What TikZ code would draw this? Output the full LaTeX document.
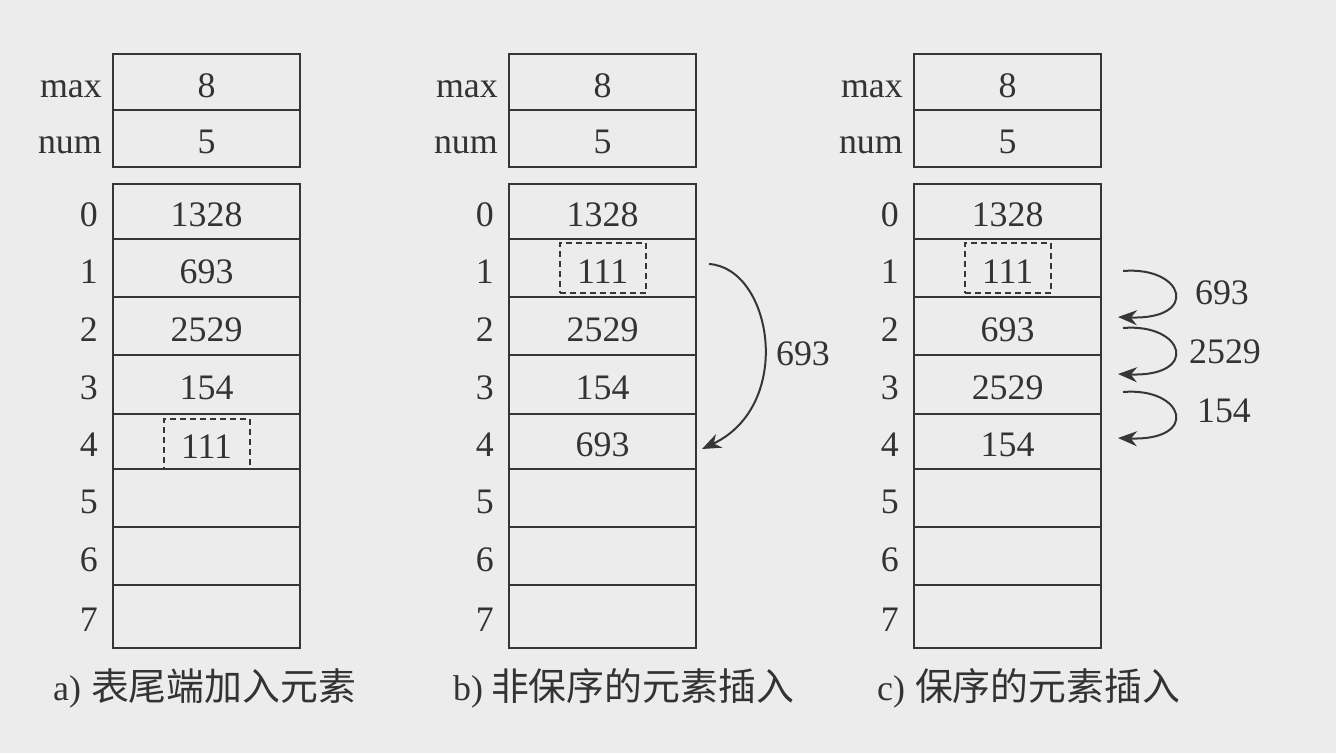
\documentclass[tikz,border=0pt]{standalone}
\usepackage{fontspec}
\setmainfont{Liberation Serif}
\newfontfamily\cjk{Noto Sans CJK SC}
\usetikzlibrary{arrows.meta}
\definecolor{bgc}{HTML}{ECECEC}
\definecolor{linec}{HTML}{363636}
\definecolor{textc}{HTML}{333333}
\begin{document}
\begin{tikzpicture}[x=1bp,y=-1bp,font=\fontsize{36}{40}\selectfont,
  cell/.style={draw=linec,line width=2.2bp,minimum width=187bp,inner sep=0pt,
    anchor=north west,text=textc,text height=30bp,text depth=0bp},
  idx/.style={anchor=east,text=textc,inner sep=0pt,text height=30bp,text depth=0bp},
  dbox/.style={draw=linec,dash pattern=on 6bp off 4bp,line width=2bp,
    minimum width=86bp,minimum height=50bp,inner sep=0pt,text=textc,
    text height=30bp,text depth=0bp},
  arr/.style={draw=linec,line width=2bp,-{Stealth[length=19bp,width=15bp]}},
  lbl/.style={text=textc,inner sep=0pt},
  captxt/.style={anchor=base west,text=textc,inner sep=0pt}]
\fill[bgc] (0,0) rectangle (1336,753);
\useasboundingbox (0,0) rectangle (1336,753);

% header cells
\foreach \p/\x in {a/112,b/508,c/913}{
  \node[cell,minimum height=56bp] (\p max) at (\x,53) {8};
  \node[cell,minimum height=57bp] (\p num) at (\x,109) {5};
  \node[idx] (\p maxl) at ([xshift=-10bp]\p max.west) {max};
  \node[idx] (\p numl) at ([xshift=-10bp]\p num.west) {num};
}

% panel a
\foreach \i/\t/\h/\v in {0/183/55/1328,1/238/58/693,2/296/58/2529,3/354/59/154,
  4/413/55/,5/468/58/,6/526/58/,7/584/63/}{
  \node[cell,minimum height=\h bp] (a\i) at (112,\t) {\v};
  \node[idx] (ai\i) at ([xshift=-14bp]a\i.west) {\i};
}
\node[dbox] (ad) at ([yshift=-2bp]a4.center) {111};

% panel b
\foreach \i/\t/\h/\v in {0/183/55/1328,1/238/58/,2/296/58/2529,3/354/59/154,
  4/413/55/693,5/468/58/,6/526/58/,7/584/63/}{
  \node[cell,minimum height=\h bp] (b\i) at (508,\t) {\v};
  \node[idx] (bi\i) at ([xshift=-14bp]b\i.west) {\i};
}
\node[dbox] (bd) at (b1.center) {111};

% panel c
\foreach \i/\t/\h/\v in {0/183/55/1328,1/238/58/,2/296/58/693,3/354/59/2529,
  4/413/55/154,5/468/58/,6/526/58/,7/584/63/}{
  \node[cell,minimum height=\h bp] (c\i) at (913,\t) {\v};
  \node[idx] (ci\i) at ([xshift=-14bp]c\i.west) {\i};
}
\node[dbox] (cd) at (c1.center) {111};

% arrow in panel b
\coordinate (bs) at (709,264);
\coordinate (be) at (702,449);
\draw[arr] (bs) .. controls (772,268) and (795,405) .. (be);
\node[lbl] (bl) at (803,354) {693};

% arrows in panel c
\coordinate (cs1) at (1123,271); \coordinate (ce1) at (1118,317);
\coordinate (cs2) at (1123,328); \coordinate (ce2) at (1118,374);
\coordinate (cs3) at (1123,392); \coordinate (ce3) at (1118,438);
\draw[arr] (cs1) .. controls (1185,266) and (1200,320) .. (ce1);
\draw[arr] (cs2) .. controls (1185,323) and (1200,377) .. (ce2);
\draw[arr] (cs3) .. controls (1185,387) and (1200,441) .. (ce3);
\node[lbl] (cl1) at (1222,293) {693};
\node[lbl] (cl2) at (1225,352) {2529};
\node[lbl] (cl3) at (1224,411) {154};

% captions
\node[captxt] (capa) at (53,700) {a)\hspace{10bp}{\cjk\fontsize{38}{40}\selectfont 表尾端加入元素}};
\node[captxt] (capb) at (453,700) {b)\hspace{8bp}{\cjk\fontsize{38}{40}\selectfont 非保序的元素插入}};
\node[captxt] (capc) at (877,700) {c)\hspace{10bp}{\cjk\fontsize{38}{40}\selectfont 保序的元素插入}};
\end{tikzpicture}
\end{document}
